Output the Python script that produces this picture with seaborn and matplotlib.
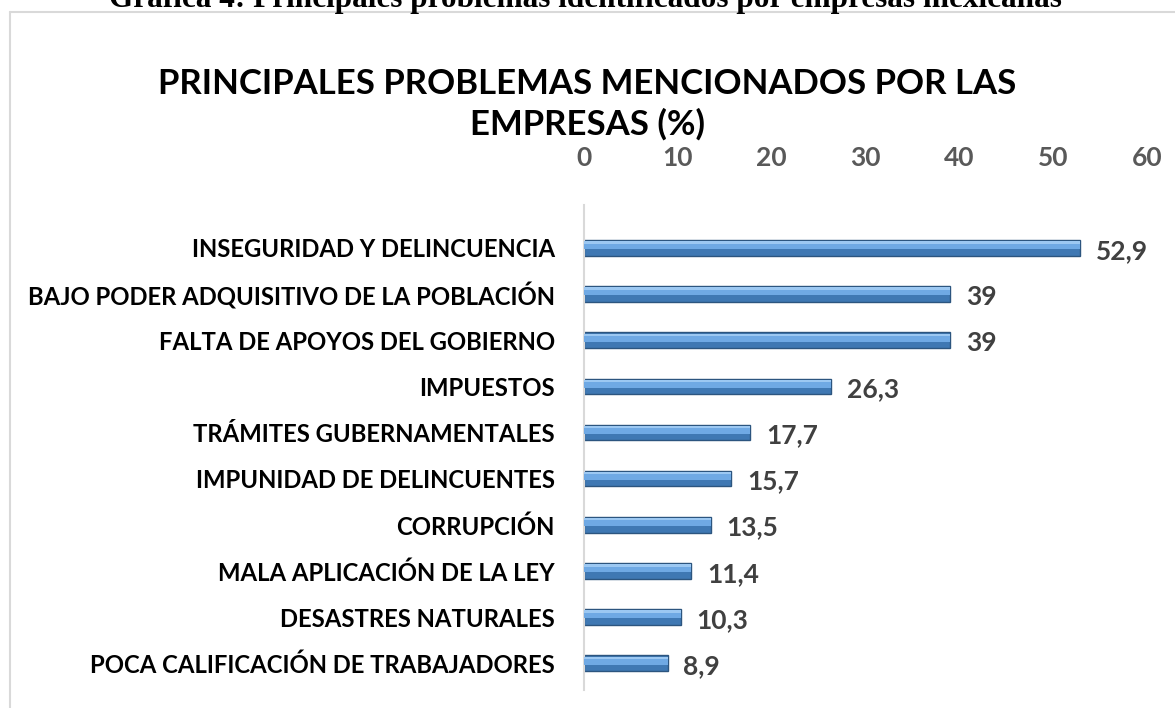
import matplotlib
matplotlib.use("Agg")
import matplotlib.pyplot as plt
import seaborn as sns
import pandas as pd
from matplotlib.lines import Line2D

categories = [
    "INSEGURIDAD Y DELINCUENCIA",
    "BAJO PODER ADQUISITIVO DE LA POBLACIÓN",
    "FALTA DE APOYOS DEL GOBIERNO",
    "IMPUESTOS",
    "TRÁMITES GUBERNAMENTALES",
    "IMPUNIDAD DE DELINCUENTES",
    "CORRUPCIÓN",
    "MALA APLICACIÓN DE LA LEY",
    "DESASTRES NATURALES",
    "POCA CALIFICACIÓN DE TRABAJADORES",
]
values = [52.9, 39, 39, 26.3, 17.7, 15.7, 13.5, 11.4, 10.3, 8.9]
value_labels = ["52,9", "39", "39", "26,3", "17,7", "15,7", "13,5", "11,4", "10,3", "8,9"]
x_ticks = [0, 10, 20, 30, 40, 50, 60]

sns.set_theme(style="white")
plt.rcParams["font.family"] = ["Lato", "DejaVu Sans"]

df = pd.DataFrame({"problema": categories, "pct": values})

fig = plt.figure(figsize=(11.75, 7.08), dpi=100)
ax = fig.add_axes([584 / 1175, 1 - 690 / 708, (1147 - 584) / 1175, (690 - 205) / 708])

# base bar (darker body)
sns.barplot(data=df, x="pct", y="problema", orient="h", ax=ax,
            color="#3F78B3", width=0.34, edgecolor="#2C557F", linewidth=1.0,
            saturation=1)
# lighter highlight on the upper part to mimic the bevel
pos = list(range(len(values)))
ax.barh([p - 0.05 for p in pos], values, height=0.16, color="#6FA9E4",
        edgecolor="none", zorder=3)
ax.barh([p - 0.12 for p in pos], values, height=0.05, color="#9CC8F2",
        edgecolor="none", zorder=3)

for p, v, lab in zip(pos, values, value_labels):
    ax.text(v + 1.7, p + 0.06, lab, va="center", ha="left", fontsize=19,
            fontweight="bold", color="#404040")

ax.set_xlim(0, 60)
ax.set_ylim(len(values) - 0.42, -0.93)
ax.xaxis.tick_top()
ax.set_xticks(x_ticks)
ax.set_xticklabels([str(t) for t in x_ticks], fontsize=19, fontweight="bold",
                   color="#595959")
ax.tick_params(axis="x", length=0, pad=25)
ax.tick_params(axis="y", length=0, pad=21)
for t in ax.get_yticklabels():
    t.set_fontsize(17.2)
    t.set_fontweight("bold")
    t.set_color("#000000")
ax.set_xlabel("")
ax.set_ylabel("")
for s in ["top", "right", "bottom"]:
    ax.spines[s].set_visible(False)
ax.spines["left"].set_color("#D9D9D9")
ax.spines["left"].set_linewidth(1.5)
ax.grid(False)

fig.text(587 / 1175, 1 - 104 / 708,
         "PRINCIPALES PROBLEMAS MENCIONADOS POR LAS\nEMPRESAS (%)",
         ha="center", va="center", fontsize=25, fontweight="bold",
         color="#000000", linespacing=1.3)

fig.text(585 / 1175, 1 + 1 / 708, "Gráfica 4: Principales problemas identificados por empresas mexicanas",
         ha="center", va="center", fontsize=22.5, fontweight="bold",
         family="Liberation Serif", color="#000000")

# chart frame
fig.add_artist(Line2D([10 / 1175, 10 / 1175], [0, 1 - 12 / 708],
                      transform=fig.transFigure, color="#D9D9D9", lw=1.5))
fig.add_artist(Line2D([10 / 1175, 1], [1 - 12 / 708, 1 - 12 / 708],
                      transform=fig.transFigure, color="#D9D9D9", lw=1.5))

fig.savefig("out.png", dpi=100, facecolor="white")
